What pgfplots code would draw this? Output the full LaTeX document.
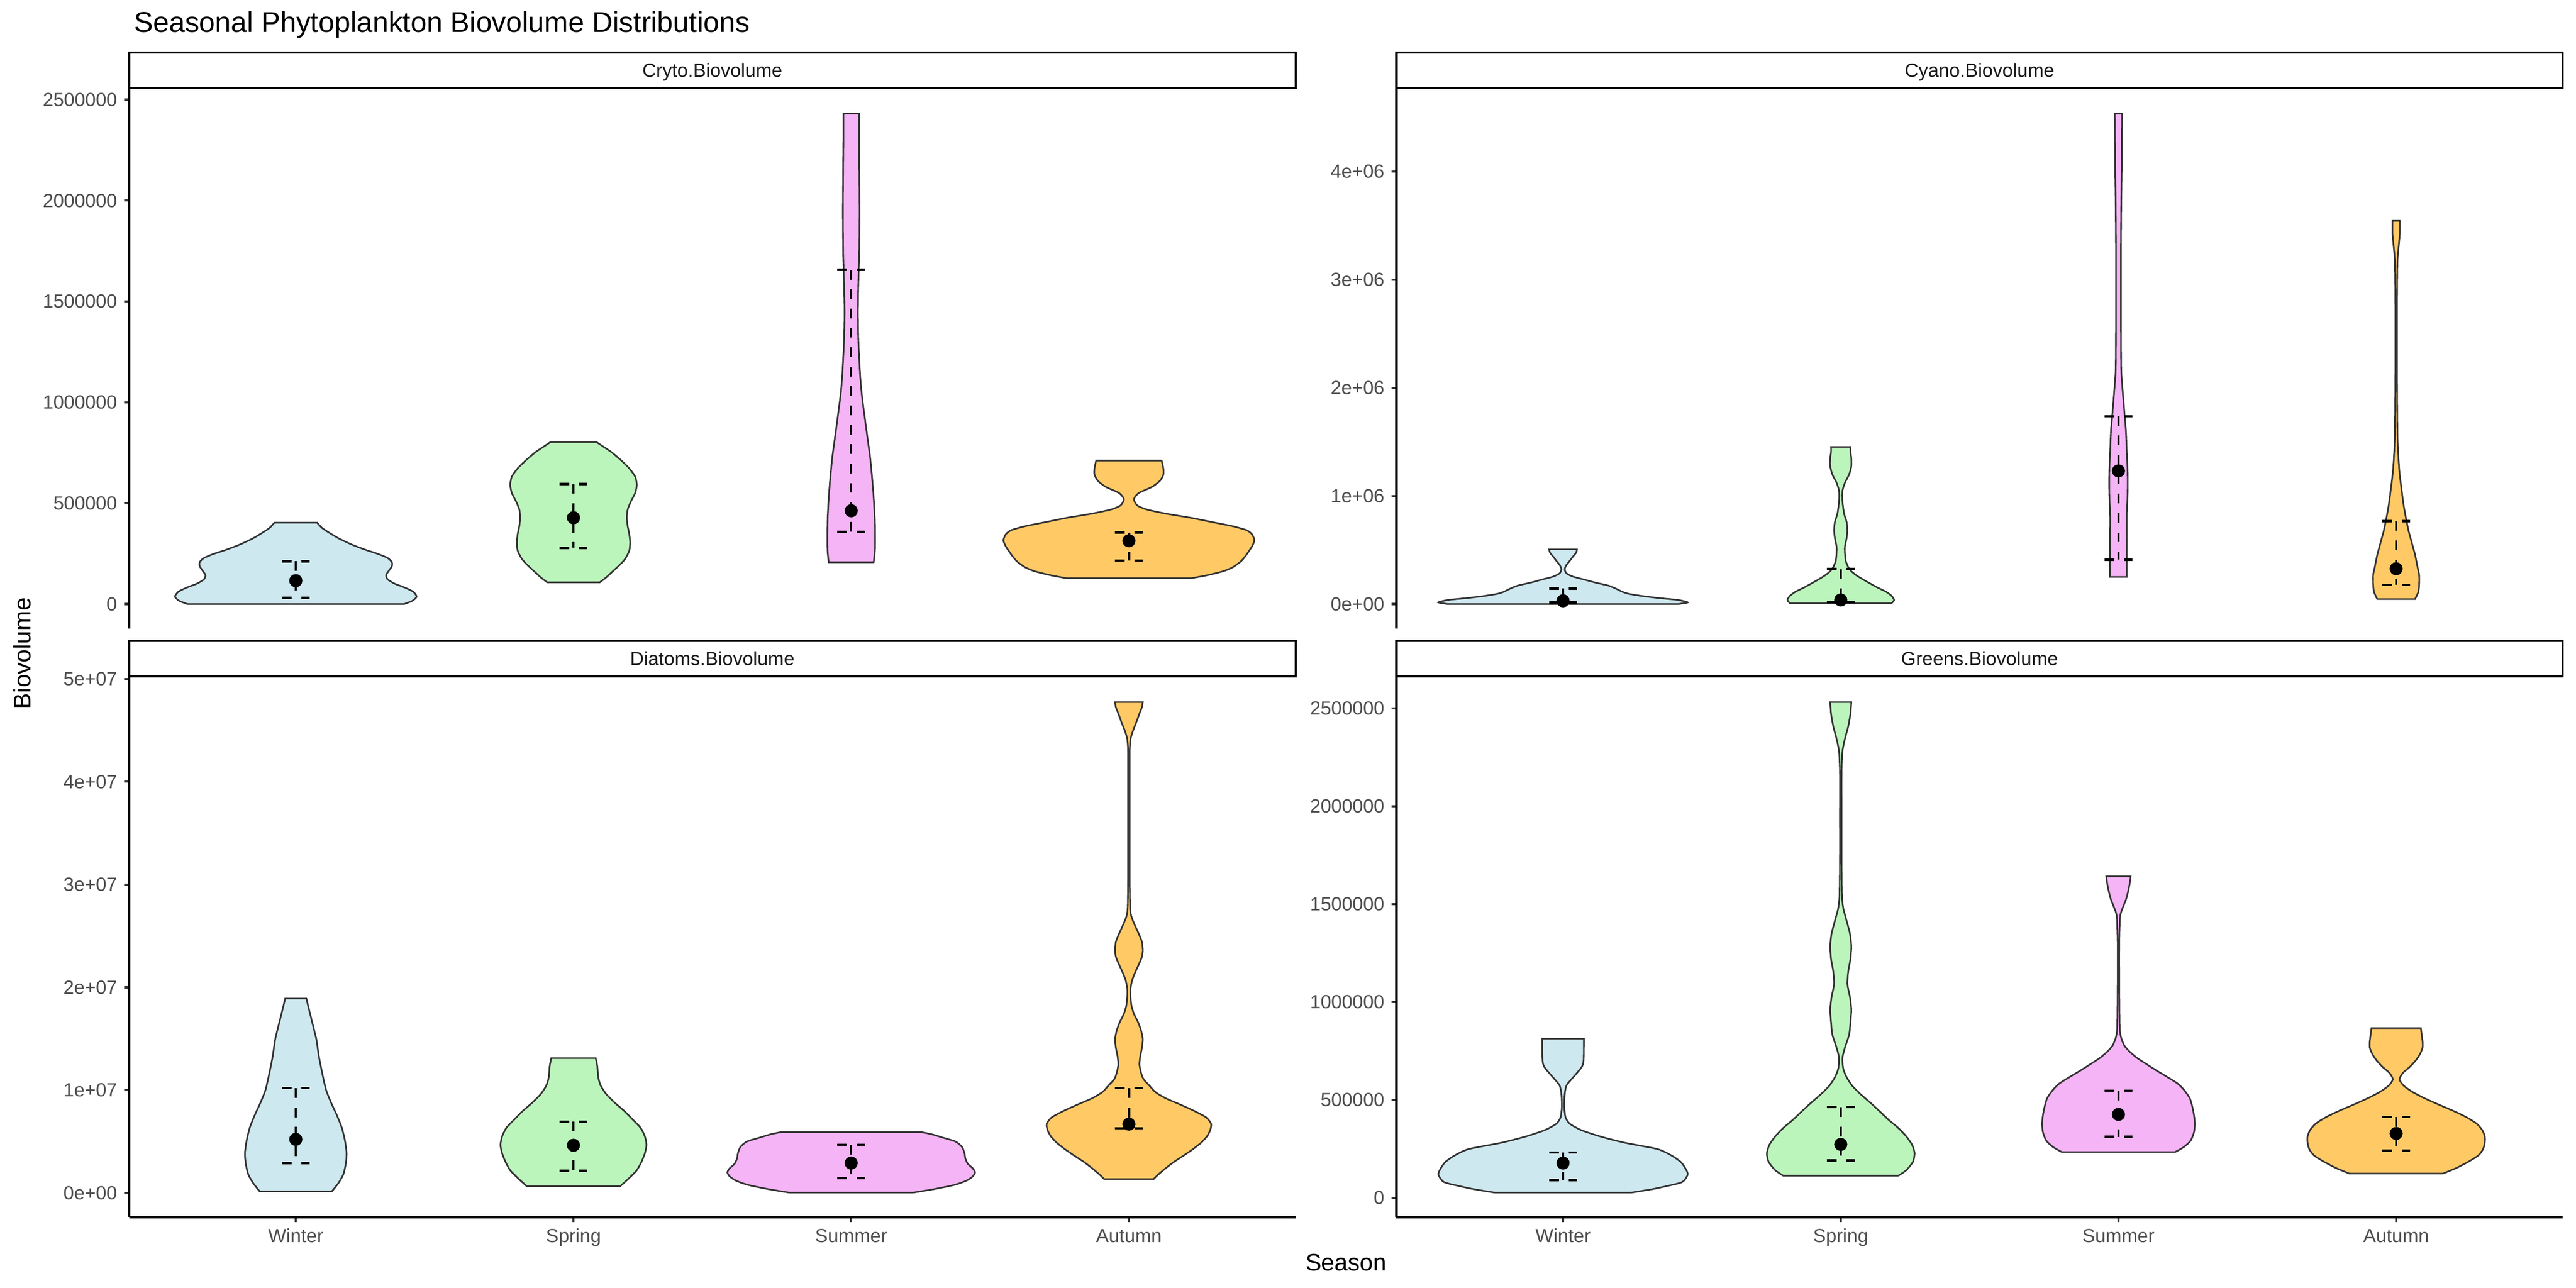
\documentclass[border=0pt]{standalone}
\usepackage{fontspec}
\setmainfont{Liberation Sans}
\usepackage{pgfplots}
\usepackage{pgfplotstable}
\pgfplotsset{compat=1.18}
\usepgfplotslibrary{fillbetween}

\definecolor{cW}{HTML}{CEE8F0}
\definecolor{cSp}{HTML}{BCF5BC}
\definecolor{cSu}{HTML}{F5B4F5}
\definecolor{cAu}{HTML}{FFC966}
\definecolor{g20}{HTML}{333333}
\definecolor{g30}{HTML}{4D4D4D}
\definecolor{g10}{HTML}{1A1A1A}

% ---------- violin profiles: y value, half width (category units) ----------
\pgfplotstableread{
y w
0 0.390
16300 0.420
36700 0.435
61100 0.423
81500 0.393
101900 0.355
122300 0.331
142600 0.325
163000 0.334
187500 0.346
207800 0.346
228200 0.331
248600 0.296
269000 0.251
295400 0.201
326000 0.154
350500 0.124
376900 0.095
403400 0.077
}\CrW
\pgfplotstableread{
y w
108000 0.095
132400 0.118
163000 0.142
193600 0.166
224100 0.186
264900 0.201
305600 0.204
346400 0.201
387100 0.195
427900 0.192
468600 0.195
509400 0.207
550100 0.222
590900 0.228
631600 0.222
672400 0.201
713100 0.171
753900 0.136
784400 0.103
802800 0.083
}\CrSp
\pgfplotstableread{
y w
207600 0.081
260000 0.085
319400 0.086
420000 0.085
525200 0.081
630000 0.075
729200 0.068
830000 0.058
933300 0.048
1040000 0.038
1139000 0.032
1300000 0.026
1446000 0.024
1600000 0.026
1753000 0.029
1950000 0.030
2150000 0.029
2300000 0.028
2431000 0.028
}\CrSu
\pgfplotstableread{
y w
128400 0.225
142600 0.281
163000 0.340
183400 0.375
213900 0.405
244500 0.423
285300 0.443
315800 0.452
346400 0.443
366800 0.423
387100 0.370
407500 0.296
427900 0.222
448300 0.133
468600 0.065
489000 0.030
519600 0.018
550100 0.035
580700 0.083
611300 0.112
641800 0.124
672400 0.124
711100 0.118
}\CrAu
\pgfplotstableread{
y w
0 0.414
15200 0.449
38000 0.414
57000 0.340
76000 0.281
95100 0.236
114100 0.213
140700 0.192
171100 0.163
197700 0.118
228100 0.074
254700 0.035
285200 0.012
323200 0.006
361200 0.012
399200 0.024
437300 0.035
475300 0.047
505700 0.050
}\CyW
\pgfplotstableread{
y w
7600 0.183
38000 0.192
76000 0.183
114100 0.163
152100 0.133
190100 0.106
228100 0.080
266200 0.056
304200 0.038
342200 0.027
399200 0.018
475300 0.015
532300 0.015
608300 0.021
684400 0.024
760400 0.021
836400 0.012
950600 0.006
1045600 0.006
1121700 0.015
1197700 0.030
1273700 0.038
1349800 0.038
1406800 0.035
1452400 0.035
}\CySp
\pgfplotstableread{
y w
250900 0.030
456300 0.030
646400 0.030
836400 0.030
1026600 0.033
1216700 0.033
1406800 0.030
1596900 0.027
1787000 0.021
1977100 0.015
2167200 0.010
2547400 0.009
2927600 0.009
3307800 0.009
3688000 0.010
4068200 0.012
4535900 0.013
}\CySu
\pgfplotstableread{
y w
45600 0.068
114100 0.080
190100 0.083
266200 0.083
342200 0.077
456300 0.068
570300 0.056
684400 0.044
798400 0.035
912500 0.027
1026600 0.021
1216700 0.012
1406800 0.007
1596900 0.0045
2167200 0.003
2737400 0.003
3155700 0.0045
3307800 0.009
3421900 0.013
3543600 0.013
}\CyAu
\pgfplotstableread{
y w
164500 0.130
986800 0.154
1809000 0.171
2837000 0.180
3865000 0.183
5099000 0.177
6332000 0.166
7566000 0.148
8799000 0.127
10033000 0.109
11678000 0.095
13322000 0.083
14967000 0.074
16612000 0.059
18257000 0.044
18914000 0.038
}\DiW
\pgfplotstableread{
y w
657900 0.168
1398000 0.198
2220000 0.228
3043000 0.245
3865000 0.257
4687000 0.263
5510000 0.257
6332000 0.242
7155000 0.213
7977000 0.183
8799000 0.148
9622000 0.118
10444000 0.098
11266000 0.089
12294000 0.086
13117000 0.080
}\DiSp
\pgfplotstableread{
y w
41100 0.222
370100 0.296
781200 0.370
1192000 0.414
1604000 0.437
2015000 0.446
2426000 0.437
2837000 0.420
3372000 0.411
3865000 0.408
4482000 0.399
5016000 0.375
5428000 0.325
5715000 0.290
5921000 0.254
}\DiSu
\pgfplotstableread{
y w
1356900 0.089
1809200 0.106
2426000 0.133
3042700 0.163
3659500 0.198
4276300 0.231
4893000 0.260
5509800 0.281
6126600 0.293
6743400 0.296
7360100 0.278
7976900 0.236
8593700 0.186
9210400 0.133
9827200 0.095
10444000 0.074
11060700 0.053
11677500 0.044
12499900 0.038
13322200 0.041
14144600 0.047
14967000 0.050
15789300 0.044
16611700 0.033
17434000 0.018
18256400 0.009
19078800 0.006
19901100 0.006
20723500 0.012
21545800 0.024
22368200 0.038
22985000 0.047
23601700 0.050
24424100 0.047
25246500 0.035
26068800 0.021
26891200 0.009
27713500 0.0044
30591800 0.003
34703600 0.003
38815400 0.003
42927200 0.003
44160700 0.006
44983100 0.015
45805500 0.027
46627800 0.038
47244600 0.047
47738000 0.050
}\DiAu
\pgfplotstableread{
y w
25900 0.245
43200 0.320
58300 0.370
79900 0.429
118800 0.449
151300 0.440
183700 0.423
216100 0.390
248500 0.340
280900 0.222
313300 0.133
345700 0.065
378100 0.024
410600 0.009
464600 0.0044
529400 0.006
572600 0.012
605000 0.030
637400 0.050
669800 0.068
702300 0.074
812500 0.075
}\GrW
\pgfplotstableread{
y w
112400 0.207
140500 0.236
183700 0.260
226900 0.266
270100 0.257
313300 0.236
356500 0.207
399700 0.171
443000 0.139
486200 0.106
529400 0.071
572600 0.041
615800 0.021
659000 0.009
713100 0.006
767100 0.015
831900 0.030
896700 0.035
961600 0.038
1026400 0.033
1091200 0.024
1156000 0.027
1220900 0.035
1285700 0.038
1350500 0.033
1415300 0.021
1480200 0.009
1545000 0.0044
1739400 0.003
1955500 0.003
2171600 0.003
2279600 0.006
2344500 0.015
2409300 0.027
2474100 0.035
2532500 0.038
}\GrSp
\pgfplotstableread{
y w
233400 0.204
259300 0.236
291700 0.260
334900 0.272
378100 0.275
421400 0.272
464600 0.266
507800 0.257
551000 0.236
583400 0.213
615800 0.177
648200 0.139
680700 0.103
713100 0.068
745500 0.041
777900 0.021
821100 0.009
875100 0.0044
1091200 0.003
1307300 0.003
1436900 0.006
1480200 0.015
1523400 0.027
1566600 0.035
1609800 0.041
1642200 0.044
}\GrSu
\pgfplotstableread{
y w
123200 0.168
151300 0.216
183700 0.260
216100 0.296
248500 0.313
280900 0.319
313300 0.319
345700 0.310
378100 0.290
410600 0.254
443000 0.207
475400 0.154
507800 0.103
540200 0.059
572600 0.027
605000 0.012
637400 0.024
669800 0.050
702300 0.071
734700 0.086
767100 0.095
799500 0.095
831900 0.092
866500 0.089
}\GrAu

\newcommand{\violin}[4]{%
  \addplot[draw=none, name path=R#1, smooth, tension=0.4] table[x expr=#2+\thisrow{w}, y=y] {#3};
  \addplot[draw=none, name path=L#1, smooth, tension=0.4] table[x expr=#2-\thisrow{w}, y=y] {#3};
  \addplot[fill=#4, draw=g20, line width=1.07bp] fill between[of=R#1 and L#1, reverse=true];
}

\pgfplotsset{
  panel/.style={
    scale only axis, width=782.4bp, height=361.92bp,
    anchor=south west,
    xmin=0.4, xmax=4.6,
    axis y line*=left,
    axis line style={line width=1.45bp, black},
    tick align=outside,
    major tick length=3.4bp,
    tick style={line width=1.45bp, color=g20},
    ticklabel style={font=\fontsize{12.85}{15}\selectfont, text=g30},
    /pgf/number format/assume math mode=true,
    scaled y ticks=false,
    xtick={1,2,3,4},
    xticklabels={Winter,Spring,Summer,Autumn},
    yticklabel style={anchor=east, inner sep=0pt, xshift=-4.5bp},
    xticklabel style={anchor=base, inner sep=0pt, yshift=-13.6bp},
    unbounded coords=jump,
  },
  toprow/.style={panel, hide x axis},
  botrow/.style={panel, axis x line*=bottom},
  eb/.style={black, line width=1.6bp, dash pattern=on 6.5bp off 6.5bp, mark=none},
  mp/.style={only marks, mark=*, mark size=4.2bp, black},
}

\newcommand{\strip}[2]{%
  \draw[line width=1.45bp, fill=white] ([yshift=0.72bp]#1.north west) rectangle ([yshift=24.5bp]#1.north east);
  \node[anchor=base, font=\fontsize{12.85}{15}\selectfont, text=g10] at ([yshift=8.2bp]#1.north) {#2};
}

\begin{document}
\begin{tikzpicture}
\path (0,0) rectangle (1728bp,864bp);

% ---------------- Cryto ----------------
\begin{axis}[toprow, name=tl, at={(86.64bp,442.32bp)},
  ymin=-121550, ymax=2552550,
  ytick={0,500000,1000000,1500000,2000000,2500000},
  yticklabels={0,500000,1000000,1500000,2000000,2500000}]
\violin{tla}{1}{\CrW}{cW}
\violin{tlb}{2}{\CrSp}{cSp}
\violin{tlc}{3}{\CrSu}{cSu}
\violin{tld}{4}{\CrAu}{cAu}
\addplot[eb] coordinates {
(0.95,212000) (1.05,212000) (nan,nan) (1,212000) (1,30600) (nan,nan) (0.95,30600) (1.05,30600) (nan,nan)
(1.95,595000) (2.05,595000) (nan,nan) (2,595000) (2,279000) (nan,nan) (1.95,279000) (2.05,279000) (nan,nan)
(2.95,1656500) (3.05,1656500) (nan,nan) (3,1656500) (3,358600) (nan,nan) (2.95,358600) (3.05,358600) (nan,nan)
(3.95,354500) (4.05,354500) (nan,nan) (4,354500) (4,216000) (nan,nan) (3.95,216000) (4.05,216000)
};
\addplot[mp] coordinates {(1,116000) (2,428000) (3,462500) (4,313800)};
\end{axis}
\strip{tl}{Cryto.Biovolume}

% ---------------- Cyano ----------------
\begin{axis}[toprow, name=tr, at={(936.72bp,442.32bp)},
  ymin=-226800, ymax=4762800,
  ytick={0,1000000,2000000,3000000,4000000},
  yticklabels={0e+00,1e+06,2e+06,3e+06,4e+06}]
\violin{tra}{1}{\CyW}{cW}
\violin{trb}{2}{\CySp}{cSp}
\violin{trc}{3}{\CySu}{cSu}
\violin{trd}{4}{\CyAu}{cAu}
\addplot[eb] coordinates {
(0.95,144500) (1.05,144500) (nan,nan) (1,144500) (1,15200) (nan,nan) (0.95,15200) (1.05,15200) (nan,nan)
(1.95,323200) (2.05,323200) (nan,nan) (2,323200) (2,19000) (nan,nan) (1.95,19000) (2.05,19000) (nan,nan)
(2.95,1737600) (3.05,1737600) (nan,nan) (3,1737600) (3,410600) (nan,nan) (2.95,410600) (3.05,410600) (nan,nan)
(3.95,768000) (4.05,768000) (nan,nan) (4,768000) (4,178700) (nan,nan) (3.95,178700) (4.05,178700)
};
\addplot[mp] coordinates {(1,30400) (2,38000) (3,1231900) (4,327000)};
\end{axis}
\strip{tr}{Cyano.Biovolume}

% ---------------- Diatoms ----------------
\begin{axis}[botrow, name=bl, at={(86.64bp,47.52bp)},
  ymin=-2343700, ymax=50122800,
  ytick={0,10000000,20000000,30000000,40000000,50000000},
  yticklabels={0e+00,1e+07,2e+07,3e+07,4e+07,5e+07}]
\violin{bla}{1}{\DiW}{cW}
\violin{blb}{2}{\DiSp}{cSp}
\violin{blc}{3}{\DiSu}{cSu}
\violin{bld}{4}{\DiAu}{cAu}
\addplot[eb] coordinates {
(0.95,10197000) (1.05,10197000) (nan,nan) (1,10197000) (1,2919000) (nan,nan) (0.95,2919000) (1.05,2919000) (nan,nan)
(1.95,6949000) (2.05,6949000) (nan,nan) (2,6949000) (2,2179000) (nan,nan) (1.95,2179000) (2.05,2179000) (nan,nan)
(2.95,4687000) (3.05,4687000) (nan,nan) (3,4687000) (3,1439000) (nan,nan) (2.95,1439000) (3.05,1439000) (nan,nan)
(3.95,10197000) (4.05,10197000) (nan,nan) (4,10197000) (4,6291000) (nan,nan) (3.95,6291000) (4.05,6291000)
};
\addplot[mp] coordinates {(1,5222000) (2,4646000) (3,2919000) (4,6702000)};
\end{axis}
\strip{bl}{Diatoms.Biovolume}

% ---------------- Greens ----------------
\begin{axis}[botrow, name=br, at={(936.72bp,47.52bp)},
  ymin=-99430, ymax=2657830,
  ytick={0,500000,1000000,1500000,2000000,2500000},
  yticklabels={0,500000,1000000,1500000,2000000,2500000}]
\violin{bra}{1}{\GrW}{cW}
\violin{brb}{2}{\GrSp}{cSp}
\violin{brc}{3}{\GrSu}{cSu}
\violin{brd}{4}{\GrAu}{cAu}
\addplot[eb] coordinates {
(0.95,231200) (1.05,231200) (nan,nan) (1,231200) (1,90800) (nan,nan) (0.95,90800) (1.05,90800) (nan,nan)
(1.95,462400) (2.05,462400) (nan,nan) (2,462400) (2,190200) (nan,nan) (1.95,190200) (2.05,190200) (nan,nan)
(2.95,546700) (3.05,546700) (nan,nan) (3,546700) (3,311200) (nan,nan) (2.95,311200) (3.05,311200) (nan,nan)
(3.95,412700) (4.05,412700) (nan,nan) (4,412700) (4,239800) (nan,nan) (3.95,239800) (4.05,239800)
};
\addplot[mp] coordinates {(1,177200) (2,272300) (3,425700) (4,328400)};
\end{axis}
\strip{br}{Greens.Biovolume}

% ---------------- titles ----------------
\node[anchor=base west, font=\fontsize{19.27}{23}\selectfont] at (86.4bp,842.4bp) {Seasonal Phytoplankton Biovolume Distributions};
\node[rotate=90, anchor=base, font=\fontsize{16.06}{19}\selectfont] at (20.4bp,425.76bp) {Biovolume};
\node[anchor=base, font=\fontsize{16.06}{19}\selectfont] at (902.9bp,11.52bp) {Season};
\end{tikzpicture}
\end{document}
